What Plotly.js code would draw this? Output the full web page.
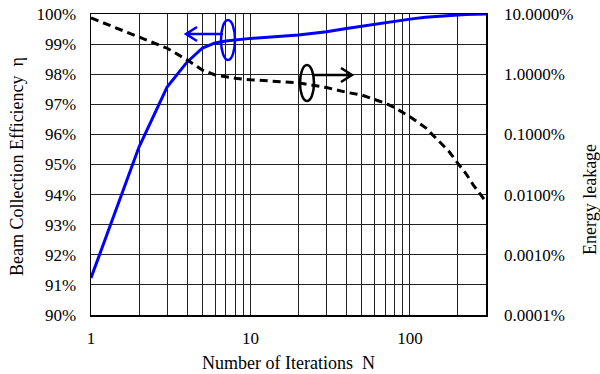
<!DOCTYPE html>
<html>
<head>
<meta charset="utf-8">
<script src="https://cdn.plot.ly/plotly-3.0.1.min.js"></script>
<style>
html,body{margin:0;padding:0;background:#fff;}
#chart{width:600px;height:374px;}
</style>
</head>
<body>
<div id="chart"></div>
<script>
// Data
var iterations = [1,2,3,4,5,6,7,8,9,10,20,30,40,50,60,70,80,90,100,125,150,175,200,225,250,275,300];
var efficiency = [91.23,95.58,97.57,98.4,98.87,99.04,99.1,99.14,99.17,99.19,99.30,99.41,99.52,99.60,99.67,99.72,99.77,99.80,99.83,99.89,99.93,99.955,99.97,99.98,99.99,99.995,100.0];
var leakage = [8.6,4.2,2.7,1.73,1.17,0.97,0.90,0.86,0.83,0.81,0.72,0.60,0.50,0.45,0.38,0.33,0.28,0.23,0.197,0.130,0.081,0.053,0.033,0.0222,0.0144,0.0104,0.0076];
var xGridVals = [1,2,3,4,5,6,7,8,9,10,20,30,40,50,60,70,80,90,100,200,300];
var xTickText = ['1','','','','','','','','','10','','','','','','','','','100','',''];
var yLeftVals = [90,91,92,93,94,95,96,97,98,99,100];
var yLeftText = ['90%','91%','92%','93%','94%','95%','96%','97%','98%','99%','100%'];
var yRightVals = [0.0001,0.001,0.01,0.1,1,10];
var yRightText = ['0.0001%','0.0010%','0.0100%','0.1000%','1.0000%','10.0000%'];

var W=600,H=374,L=91,R=114,T=14,B=59;
var pw=W-L-R, ph=H-T-B;
function px(x){return (x-L)/pw;}
function py(y){return (H-B-y)/ph;}
function pt(x,y){return px(x)+','+py(y);}

var tickFont = {family:'Liberation Serif, Times New Roman, serif', size:17, color:'#000'};
var titleFont = {family:'Liberation Serif, Times New Roman, serif', size:18, color:'#000'};

var traces = [
  {x:iterations, y:efficiency, type:'scatter', mode:'lines', yaxis:'y',
   line:{color:'#0000ff', width:3}, hoverinfo:'skip'},
  {x:iterations, y:leakage, type:'scatter', mode:'lines', yaxis:'y2',
   line:{color:'#000', width:3, dash:'8px,5px'}, hoverinfo:'skip'}
];

var layout = {
  width:W, height:H,
  margin:{l:L, r:R, t:T, b:B, pad:0},
  paper_bgcolor:'#fff', plot_bgcolor:'#fff',
  showlegend:false,
  font:tickFont,
  xaxis:{type:'log', range:[0, Math.log10(300)], tickvals:xGridVals, ticktext:xTickText,
    showgrid:true, gridcolor:'#222', gridwidth:1, showline:true, linecolor:'#000', linewidth:1.5,
    mirror:true, ticks:'', zeroline:false, tickfont:tickFont, ticklabelstandoff:7},
  yaxis:{range:[90,100], tickvals:yLeftVals, ticktext:yLeftText, showgrid:true,
    gridcolor:'#222', gridwidth:1, showline:true, linecolor:'#000', linewidth:1.5,
    ticks:'', zeroline:false, tickfont:tickFont, ticklabelstandoff:10},
  yaxis2:{type:'log', range:[-4,1], overlaying:'y', side:'right', tickvals:yRightVals,
    ticktext:yRightText, showgrid:false, showline:true, linecolor:'#000', linewidth:1.5,
    ticks:'', zeroline:false, tickfont:tickFont, ticklabelstandoff:13},
  annotations:[
    {text:'Number of Iterations  N', xref:'paper', yref:'paper', x:px(288), y:py(363),
     showarrow:false, font:titleFont, xanchor:'center', yanchor:'middle'},
    {text:'Beam Collection Efficiency  η', xref:'paper', yref:'paper', x:px(17), y:py(167),
     showarrow:false, font:titleFont, textangle:-90, xanchor:'center', yanchor:'middle'},
    {text:'Energy leakage', xref:'paper', yref:'paper', x:px(590), y:py(200),
     showarrow:false, font:titleFont, textangle:-90, xanchor:'center', yanchor:'middle'}
  ],
  shapes:[
    {type:'circle', xref:'paper', yref:'paper', x0:px(221), x1:px(235), y0:py(20), y1:py(60),
     line:{color:'#0000ff', width:2.5}},
    {type:'path', xref:'paper', yref:'paper',
     path:'M'+pt(223,34)+' L'+pt(186,34)+' M'+pt(197,27)+' L'+pt(186,34)+' L'+pt(197,41),
     line:{color:'#0000ff', width:2.5}},
    {type:'circle', xref:'paper', yref:'paper', x0:px(300), x1:px(314), y0:py(65), y1:py(101),
     line:{color:'#000', width:2.5}},
    {type:'path', xref:'paper', yref:'paper',
     path:'M'+pt(312,75)+' L'+pt(352,75)+' M'+pt(341,68)+' L'+pt(352,75)+' L'+pt(341,82),
     line:{color:'#000', width:2.5}}
  ]
};

Plotly.newPlot('chart', traces, layout, {staticPlot:true, displayModeBar:false});
</script>
</body>
</html>
